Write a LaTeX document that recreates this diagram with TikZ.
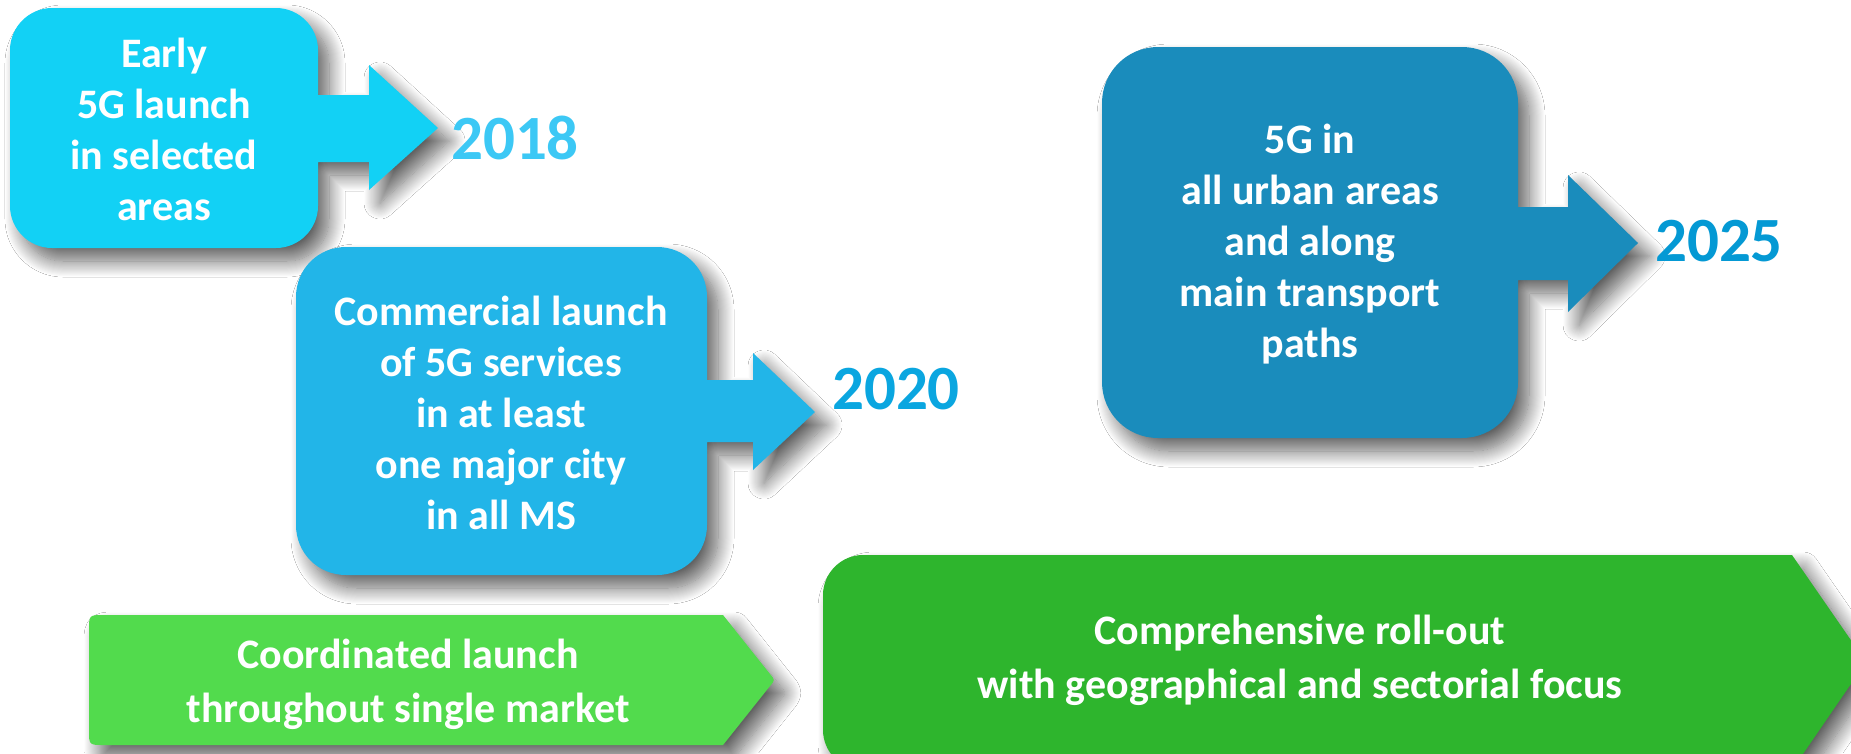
\documentclass[tikz,border=0pt]{standalone}
\usepackage{fontspec}
\setmainfont{Carlito}
\usetikzlibrary{shadows.blur}
\definecolor{cA}{HTML}{12D1F5}
\definecolor{cB}{HTML}{22B5E8}
\definecolor{cC}{HTML}{1A8CBC}
\definecolor{gA}{HTML}{52DB4D}
\definecolor{gB}{HTML}{2EB52D}
\definecolor{yA}{HTML}{3CC8F5}
\definecolor{yB}{HTML}{0AA6E0}
\definecolor{yC}{HTML}{0499D4}
\tikzset{
  panel/.style={blur shadow={shadow xshift=11pt, shadow yshift=-13pt, shadow blur radius=16pt, shadow blur steps=16, shadow opacity=62}},
  lbl/.style={text=white, font=\bfseries\fontsize{42}{51}\selectfont, align=center, inner sep=0pt},
  glbl/.style={text=white, font=\bfseries\fontsize{42}{54}\selectfont, align=center, inner sep=0pt},
  yr/.style={font=\bfseries\fontsize{63}{70}\selectfont, inner sep=0pt}
}
\begin{document}
\begin{tikzpicture}[x=1pt,y=-1pt]
\useasboundingbox[fill=white] (0,0) rectangle (1851,753);
% box 1
\path[panel, fill=cA] (52,8) -- (276,8) .. controls (299,8) and (318,27) .. (318,50)
  -- (318,95) -- (369,95) -- (369,65) -- (438,128) -- (369,190) -- (369,162) -- (318,162)
  -- (318,206) .. controls (318,229) and (299,248) .. (276,248)
  -- (52,248) .. controls (29,248) and (10,229) .. (10,206)
  -- (10,50) .. controls (10,27) and (29,8) .. (52,8) -- cycle;
% box 2
\path[panel, fill=cB] (346,247) -- (657,247) .. controls (685,247) and (707,269) .. (707,297)
  -- (707,380) -- (753,380) -- (753,353) -- (815,412) -- (753,470) -- (753,442) -- (707,442)
  -- (707,525) .. controls (707,553) and (685,575) .. (657,575)
  -- (346,575) .. controls (318,575) and (296,553) .. (296,525)
  -- (296,297) .. controls (296,269) and (318,247) .. (346,247) -- cycle;
% box 3
\path[panel, fill=cC] (1158,47) -- (1462,47) .. controls (1493,47) and (1518,72) .. (1518,103)
  -- (1518,207) -- (1568,207) -- (1568,175) -- (1638,243) -- (1568,312) -- (1568,280) -- (1518,280)
  -- (1518,382) .. controls (1518,413) and (1493,438) .. (1462,438)
  -- (1158,438) .. controls (1127,438) and (1102,413) .. (1102,382)
  -- (1102,103) .. controls (1102,72) and (1127,47) .. (1158,47) -- cycle;
% green 1
\path[panel, fill=gA] (104,615) -- (723,615) -- (770,674) .. controls (775,680) .. (770,686)
  -- (723,745) -- (104,745) .. controls (89,745) .. (89,730)
  -- (89,630) .. controls (89,615) .. (104,615) -- cycle;
% green 2
\path[panel, fill=gB] (863,555) -- (1792,555) -- (1866,662) -- (1792,770)
  -- (863,770) .. controls (841,770) and (823,752) .. (823,730)
  -- (823,595) .. controls (823,573) and (841,555) .. (863,555) -- cycle;
% texts
\node[lbl] (t1) at (164,129) {Early\\5G launch\\in selected\\areas};
\node[lbl] (t2) at (501,413) {Commercial launch\\of 5G services\\in at least\\one major city\\in all MS};
\node[lbl] (t3) at (1310,244) {5G in\\all urban areas\\and along\\main transport\\paths};
\node[glbl] (t4) at (408,684) {Coordinated launch\\throughout single market};
\node[glbl] (t5) at (1300,660) {Comprehensive roll-out\\with geographical and sectorial focus};
\node[yr, text=yA] (y1) at (515,138) {2018};
\node[yr, text=yB] (y2) at (896,389) {2020};
\node[yr, text=yC] (y3) at (1719,241) {2025};
\end{tikzpicture}
\end{document}
